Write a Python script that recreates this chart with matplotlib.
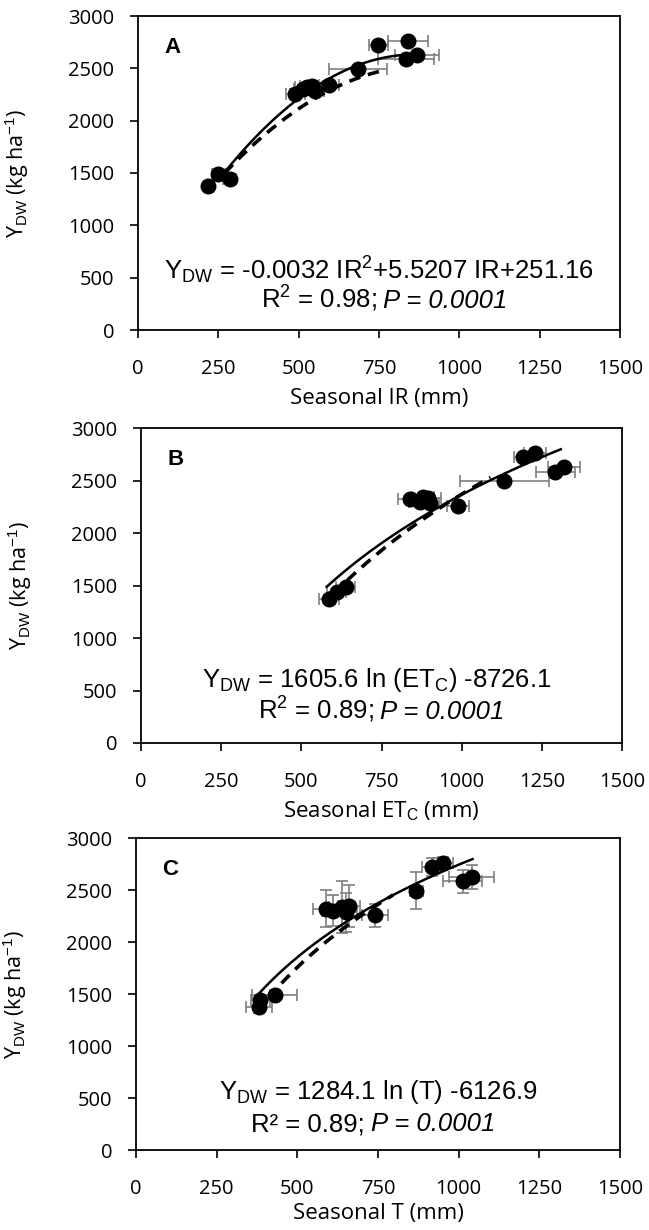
import numpy as np
import matplotlib
matplotlib.use("Agg")
import matplotlib.pyplot as plt

plt.rcParams["mathtext.fontset"] = "custom"
plt.rcParams["mathtext.rm"] = "Liberation Sans"
plt.rcParams["mathtext.it"] = "Liberation Sans:italic"
plt.rcParams["mathtext.bf"] = "Liberation Sans:bold"

# ---------------- data ----------------
yield_dw = [1375, 1490, 1440, 2255, 2320, 2300, 2335, 2285, 2345, 2495, 2720, 2760, 2585, 2625]

ir_mm   = [219, 250, 286, 490, 525, 515, 540, 550, 594, 684, 748, 839, 834, 869]
ir_xerr = [15, 20, 20, 30, 35, 30, 35, 30, 30, 90, 30, 62, 88, 68]
ir_yerr = [25, 25, 20, 45, 40, 40, 40, 40, 30, 20, 20, 20, 20, 20]

etc_mm   = [586, 638, 610, 988, 840, 870, 895, 900, 880, 1133, 1192, 1229, 1292, 1320]
etc_xerr = [30, 30, 30, 35, 40, 35, 40, 30, 35, 138, 30, 35, 60, 50]
etc_yerr = [20, 20, 20, 20, 30, 30, 40, 40, 30, 20, 20, 20, 20, 20]

t_mm   = [380, 430, 385, 741, 590, 612, 638, 650, 660, 868, 916, 952, 1012, 1040]
t_xerr = [40, 70, 30, 40, 40, 35, 40, 35, 35, 20, 30, 30, 60, 70]
t_yerr = [60, 50, 50, 110, 180, 150, 250, 190, 200, 180, 90, 60, 110, 120]

# fitted curves (coefficients)
quad_ir_solid  = [-0.0032, 5.5207, 251.16]
quad_ir_dashed = [-0.0026, 4.672, 428.0]
ir_solid_range, ir_dashed_range = (270, 850), (270, 753)

log_etc_solid  = [1605.6, -8726.1]
log_etc_dashed = [1859.0, -10472.0]
etc_solid_range, etc_dashed_range = (579, 1309), (600, 1090)

log_t_solid  = [1284.1, -6126.9]
log_t_dashed = [1491.0, -7509.0]
t_solid_range, t_dashed_range = (379, 1043), (451, 797)

xticks = [0, 250, 500, 750, 1000, 1250, 1500]
yticks = [0, 500, 1000, 1500, 2000, 2500, 3000]

W, H = 649, 1230
fig = plt.figure(figsize=(W / 100, H / 100), dpi=100)

pval = "P = 0.0001"
panels = [
    dict(rect=[138 / W, 1 - 330 / H, 482 / W, 314 / H], x=ir_mm, xe=ir_xerr, ye=ir_yerr,
         label="A", xlabel="Seasonal IR (mm)",
         eq=r"Y$_{\mathrm{DW}}$ = -0.0032 IR$^{2}$+5.5207 IR+251.16",
         r2=r"R$^{2}$ = 0.98;", kind="quad",
         solid=quad_ir_solid, dashed=quad_ir_dashed, sr=ir_solid_range, dr=ir_dashed_range,
         eqy=0.19, r2y=0.09, eqx=0.50, r2x=0.51, xly=-0.185),
    dict(rect=[141 / W, 1 - 743 / H, 481 / W, 315 / H], x=etc_mm, xe=etc_xerr, ye=etc_yerr,
         label="B", xlabel=r"Seasonal ET$_{\mathrm{C}}$ (mm)",
         eq=r"Y$_{\mathrm{DW}}$ = 1605.6 ln (ET$_{\mathrm{C}}$) -8726.1",
         r2=r"R$^{2}$ = 0.89;", kind="log",
         solid=log_etc_solid, dashed=log_etc_dashed, sr=etc_solid_range, dr=etc_dashed_range,
         eqy=0.20, r2y=0.095, eqx=0.49, r2x=0.50, xly=-0.18),
    dict(rect=[136 / W, 1 - 1150 / H, 484 / W, 312 / H], x=t_mm, xe=t_xerr, ye=t_yerr,
         label="C", xlabel="Seasonal T (mm)",
         eq=r"Y$_{\mathrm{DW}}$ = 1284.1 ln (T) -6126.9",
         r2="R² = 0.89;", kind="log",
         solid=log_t_solid, dashed=log_t_dashed, sr=t_solid_range, dr=t_dashed_range,
         eqy=0.185, r2y=0.08, eqx=0.50, r2x=0.49, xly=-0.17),
]

tick_font = "Open Sans"
txt_font = "Liberation Sans"

pairs = []
for p in panels:
    ax = fig.add_axes(p["rect"])
    ax.errorbar(p["x"], yield_dw, xerr=p["xe"], yerr=p["ye"], fmt="none",
                ecolor="#7f7f7f", elinewidth=1.2, capsize=4, capthick=1.2, zorder=2)
    ax.plot(p["x"], yield_dw, "o", color="black", markersize=10.5, zorder=3)

    xs = np.linspace(p["sr"][0], p["sr"][1], 200)
    xd = np.linspace(p["dr"][0], p["dr"][1], 200)
    if p["kind"] == "quad":
        ys = np.polyval(p["solid"], xs)
        yd = np.polyval(p["dashed"], xd)
    else:
        ys = p["solid"][0] * np.log(xs) + p["solid"][1]
        yd = p["dashed"][0] * np.log(xd) + p["dashed"][1]
    ax.plot(xs, ys, "-", color="black", lw=1.8, zorder=4)
    ax.plot(xd, yd, color="black", lw=2.6, dashes=(3.2, 2.2), zorder=4)

    ax.set_xlim(0, 1500)
    ax.set_ylim(0, 3000)
    ax.set_xticks(xticks)
    ax.set_yticks(yticks)
    ax.tick_params(direction="out", length=6, width=1.2, labelsize=14.5)
    ax.tick_params(axis="y", pad=11)
    ax.tick_params(axis="x", pad=15)
    for lab in ax.get_xticklabels() + ax.get_yticklabels():
        lab.set_fontfamily(tick_font)
    for s in ax.spines.values():
        s.set_linewidth(1.3)

    ax.set_ylabel(r"Y$_{\mathrm{DW}}$ (kg ha$^{-1}$)", fontsize=15.5, family=tick_font)
    ax.yaxis.set_label_coords(-0.222, 0.5)
    ax.set_xlabel(p["xlabel"], fontsize=16, family=tick_font)
    ax.xaxis.set_label_coords(0.5, p["xly"])

    ax.text(0.055, 0.90, p["label"], transform=ax.transAxes, fontsize=16,
            fontweight="bold", family=txt_font, va="center", ha="left")
    ax.text(p["eqx"], p["eqy"], p["eq"], transform=ax.transAxes, fontsize=18.5,
            family=txt_font, ha="center", va="center")
    t1 = ax.text(p["r2x"], p["r2y"], p["r2"], transform=ax.transAxes, fontsize=18.5,
                 family=txt_font, ha="left", va="baseline")
    t2 = ax.text(p["r2x"], p["r2y"], pval, transform=ax.transAxes, fontsize=18.5,
                 family=txt_font, style="italic", ha="left", va="baseline")
    pairs.append((ax, t1, t2, p["r2x"]))

fig.canvas.draw()
r = fig.canvas.get_renderer()
gap_px = 6
for ax, t1, t2, cx in pairs:
    axw = ax.get_window_extent(r).width
    w1 = t1.get_window_extent(r).width / axw
    w2 = t2.get_window_extent(r).width / axw
    g = gap_px / axw
    start = cx - (w1 + g + w2) / 2
    y = t1.get_position()[1]
    t1.set_position((start, y - 0.02))
    t2.set_position((start + w1 + g, y - 0.02))

fig.savefig("out.png", dpi=100)
